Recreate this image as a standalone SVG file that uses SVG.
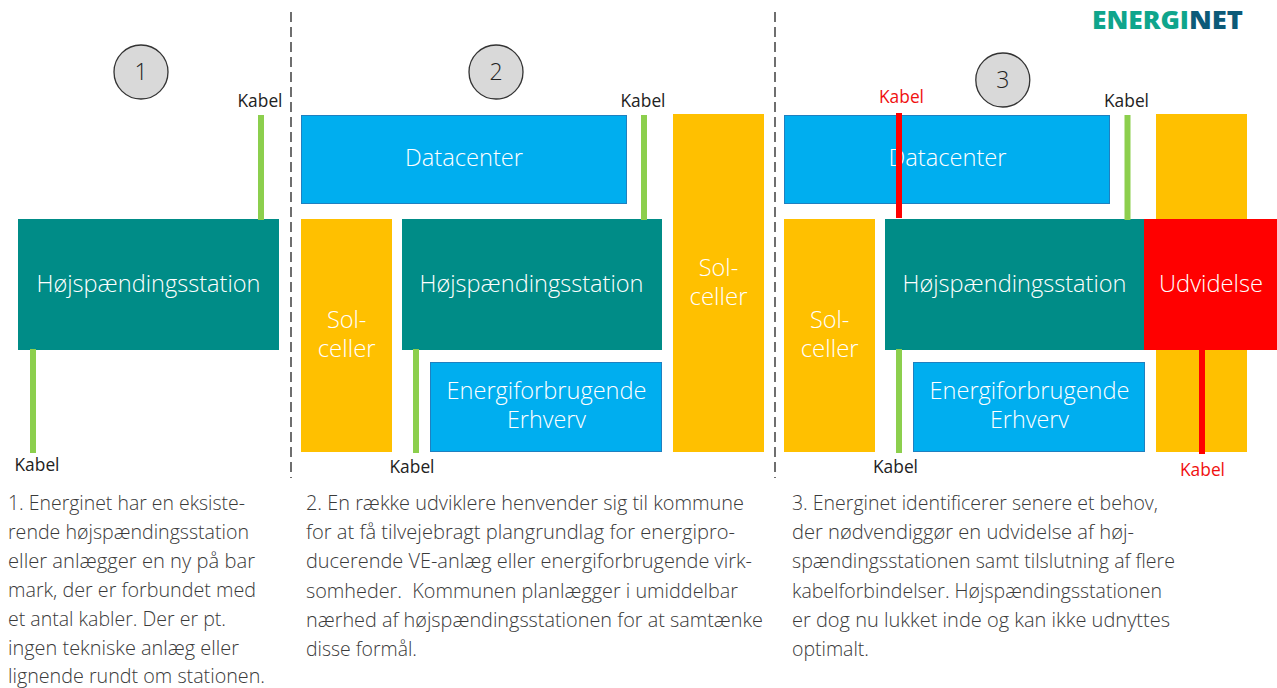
<svg xmlns="http://www.w3.org/2000/svg" width="1277" height="688" viewBox="0 0 1277 688">
<style>
text{font-family:"Open Sans","Noto Sans","Liberation Sans",sans-serif}
.t{fill:#fff;font-size:23.500px;font-weight:300;text-anchor:middle}
.k{fill:#222;font-size:17.500px;text-anchor:middle}
.r{fill:#f01010;font-size:17.500px;text-anchor:middle}
.p{fill:#3a3a3a;font-size:19.500px;font-weight:300}
.num{fill:#222;font-size:23px;font-weight:300;text-anchor:middle}
.logo{font-size:25px;font-weight:800}
.st{fill:#008c87}
.dc{fill:#00aeef;stroke:#1f80c0;stroke-width:1}
.sol{fill:#ffc000}
.gr{fill:#8ccf4d}
.rd{fill:#ff0000}
.c{fill:#d9d9d9;stroke:#333;stroke-width:1.300}
.d{stroke:#222;stroke-width:1.300;stroke-dasharray:10 5;fill:none}
</style>
<g id="dividers">
<line class="d" x1="291" y1="12" x2="291" y2="478"/>
<line class="d" x1="775" y1="12" x2="775" y2="478"/>
</g>
<g id="logo"><text class="logo" x="1092" y="29" fill="#0fa58c" textLength="97" lengthAdjust="spacingAndGlyphs">ENERGI</text><text class="logo" x="1189" y="29" fill="#0c5a78" textLength="54" lengthAdjust="spacingAndGlyphs">NET</text></g>

<g id="badge1"><circle class="c" cx="141" cy="72" r="27"/><text class="num" x="141" y="80">1</text></g>
<g id="badge2"><circle class="c" cx="496" cy="72" r="27"/><text class="num" x="496" y="80">2</text></g>
<g id="badge3"><circle class="c" cx="1002.800" cy="80" r="27"/><text class="num" x="1002.800" y="88">3</text></g>

<g id="station1"><rect class="st" x="18" y="219" width="261" height="131"/><text class="t" x="148.500" y="291.500" textLength="224" lengthAdjust="spacingAndGlyphs">Højspændingsstation</text></g>

<g id="datacenter2"><rect class="dc" x="301.500" y="115.500" width="325" height="88"/><text class="t" x="464" y="166" textLength="118" lengthAdjust="spacingAndGlyphs">Datacenter</text></g>
<g id="sol2a"><rect class="sol" x="301" y="219" width="91" height="233"/><text class="t" x="346.700" y="328">Sol-</text><text class="t" x="346.700" y="357" textLength="58" lengthAdjust="spacingAndGlyphs">celler</text></g>
<g id="station2"><rect class="st" x="402" y="219" width="260" height="131"/><text class="t" x="531.500" y="291.500" textLength="224" lengthAdjust="spacingAndGlyphs">Højspændingsstation</text></g>
<g id="erhverv2"><rect class="dc" x="430.500" y="362.500" width="231" height="89"/><text class="t" x="546.500" y="399" textLength="200" lengthAdjust="spacingAndGlyphs">Energiforbrugende</text><text class="t" x="546.500" y="428" textLength="79" lengthAdjust="spacingAndGlyphs">Erhverv</text></g>
<g id="sol2b"><rect class="sol" x="673" y="114" width="91" height="338"/><text class="t" x="718.500" y="276">Sol-</text><text class="t" x="718.500" y="305" textLength="58" lengthAdjust="spacingAndGlyphs">celler</text></g>

<g id="sol3b"><rect class="sol" x="1156" y="114" width="91" height="338"/></g>
<g id="datacenter3"><rect class="dc" x="784.500" y="115.500" width="325" height="88"/><text class="t" x="947.500" y="166" textLength="118" lengthAdjust="spacingAndGlyphs">Datacenter</text></g>
<g id="sol3a"><rect class="sol" x="784" y="219" width="91" height="233"/><text class="t" x="829.700" y="328">Sol-</text><text class="t" x="829.700" y="357" textLength="58" lengthAdjust="spacingAndGlyphs">celler</text></g>
<g id="station3"><rect class="st" x="885" y="219" width="260" height="131"/><text class="t" x="1014.500" y="291.500" textLength="224" lengthAdjust="spacingAndGlyphs">Højspændingsstation</text></g>
<g id="udvidelse"><rect class="rd" x="1144" y="219" width="133" height="131"/><text class="t" x="1211" y="291.500" textLength="104" lengthAdjust="spacingAndGlyphs">Udvidelse</text></g>
<g id="erhverv3"><rect class="dc" x="913.500" y="362.500" width="231" height="89"/><text class="t" x="1029.500" y="399" textLength="200" lengthAdjust="spacingAndGlyphs">Energiforbrugende</text><text class="t" x="1029.500" y="428" textLength="79" lengthAdjust="spacingAndGlyphs">Erhverv</text></g>

<g id="connectors">
<rect class="gr" x="258" y="115" width="6" height="105"/>
<rect class="gr" x="30" y="349" width="6" height="104"/>
<rect class="gr" x="641" y="115" width="6" height="105"/>
<rect class="gr" x="413" y="349" width="6" height="104"/>
<rect class="gr" x="1124.500" y="115" width="6" height="105"/>
<rect class="gr" x="896" y="349" width="6" height="104"/>
<rect class="rd" x="896" y="113" width="6" height="105"/>
<rect class="rd" x="1199" y="349" width="6" height="105"/>
</g>
<g id="labels">
<text class="k" x="260" y="107" textLength="45" lengthAdjust="spacingAndGlyphs">Kabel</text>
<text class="k" x="37" y="471" textLength="45" lengthAdjust="spacingAndGlyphs">Kabel</text>
<text class="k" x="412" y="472.500" textLength="45" lengthAdjust="spacingAndGlyphs">Kabel</text>
<text class="k" x="643" y="107" textLength="45" lengthAdjust="spacingAndGlyphs">Kabel</text>
<text class="r" x="901.500" y="102.500" textLength="45" lengthAdjust="spacingAndGlyphs">Kabel</text>
<text class="k" x="1126.500" y="107" textLength="45" lengthAdjust="spacingAndGlyphs">Kabel</text>
<text class="k" x="895.500" y="472.500" textLength="45" lengthAdjust="spacingAndGlyphs">Kabel</text>
<text class="r" x="1202.500" y="476" textLength="45" lengthAdjust="spacingAndGlyphs">Kabel</text>
</g>
<g id="text1">
<text class="p" x="8" y="509.500" textLength="237" lengthAdjust="spacingAndGlyphs">1. Energinet har en eksiste-</text>
<text class="p" x="8" y="538.500" textLength="241" lengthAdjust="spacingAndGlyphs">rende højspændingsstation</text>
<text class="p" x="8" y="567.500" textLength="247" lengthAdjust="spacingAndGlyphs">eller anlægger en ny på bar</text>
<text class="p" x="8" y="596.500" textLength="248" lengthAdjust="spacingAndGlyphs">mark, der er forbundet med</text>
<text class="p" x="8" y="625.500" textLength="218" lengthAdjust="spacingAndGlyphs">et antal kabler. Der er pt.</text>
<text class="p" x="8" y="654.500" textLength="231" lengthAdjust="spacingAndGlyphs">ingen tekniske anlæg eller</text>
<text class="p" x="8" y="682.500" textLength="257" lengthAdjust="spacingAndGlyphs">lignende rundt om stationen.</text>
</g>
<g id="text2">
<text class="p" x="306" y="510" textLength="438" lengthAdjust="spacingAndGlyphs">2. En række udviklere henvender sig til kommune</text>
<text class="p" x="306" y="539" textLength="429" lengthAdjust="spacingAndGlyphs">for at få tilvejebragt plangrundlag for energipro-</text>
<text class="p" x="306" y="568" textLength="446" lengthAdjust="spacingAndGlyphs">ducerende VE-anlæg eller energiforbrugende virk-</text>
<text class="p" x="306" y="597.500" textLength="432" lengthAdjust="spacingAndGlyphs" xml:space="preserve">somheder.  Kommunen planlægger i umiddelbar</text>
<text class="p" x="306" y="626.500" textLength="457" lengthAdjust="spacingAndGlyphs">nærhed af højspændingsstationen for at samtænke</text>
<text class="p" x="306" y="656" textLength="111" lengthAdjust="spacingAndGlyphs">disse formål.</text>
</g>
<g id="text3">
<text class="p" x="792" y="510" textLength="366" lengthAdjust="spacingAndGlyphs">3. Energinet identificerer senere et behov,</text>
<text class="p" x="792" y="539" textLength="342" lengthAdjust="spacingAndGlyphs">der nødvendiggør en udvidelse af høj-</text>
<text class="p" x="792" y="568" textLength="383" lengthAdjust="spacingAndGlyphs">spændingsstationen samt tilslutning af flere</text>
<text class="p" x="792" y="597.500" textLength="370" lengthAdjust="spacingAndGlyphs">kabelforbindelser. Højspændingsstationen</text>
<text class="p" x="792" y="626.500" textLength="378" lengthAdjust="spacingAndGlyphs">er dog nu lukket inde og kan ikke udnyttes</text>
<text class="p" x="792" y="656" textLength="77" lengthAdjust="spacingAndGlyphs">optimalt.</text>
</g>
</svg>
